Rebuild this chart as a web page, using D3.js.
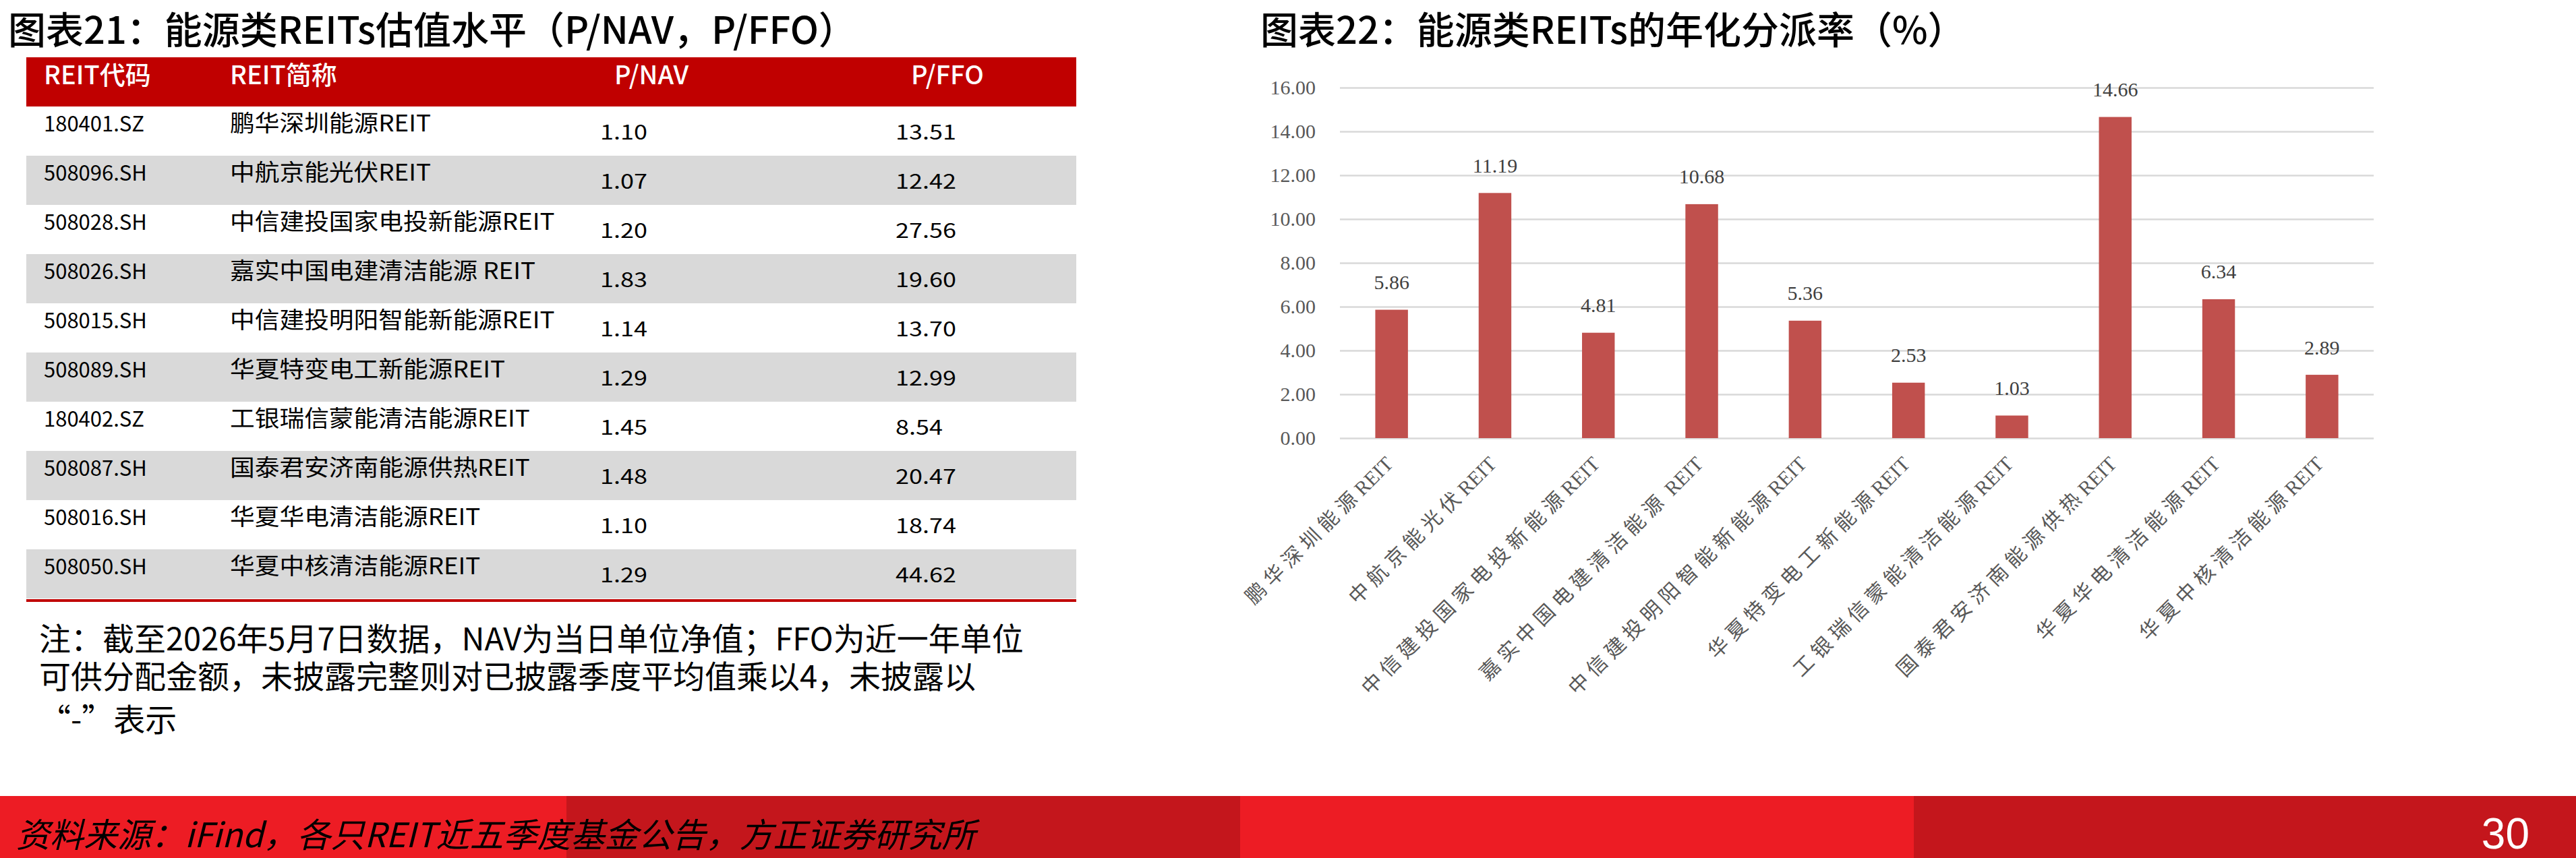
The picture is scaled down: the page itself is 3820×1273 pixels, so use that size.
<!DOCTYPE html>
<html lang="zh">
<head>
  <meta charset="UTF-8">
  <title>能源类REITs估值与分派率</title>
  <script src="https://d3js.org/d3.v7.min.js"></script>
  <style>
    body { margin: 0; background: #fff; }
    svg { display: block; }
  </style>
</head>
<body>
  <script>
    // ---- data ----
    const tableHeaders = ['REIT代码', 'REIT简称', 'P/NAV', 'P/FFO'];
    const reitCodes = ['180401.SZ', '508096.SH', '508028.SH', '508026.SH', '508015.SH',
                       '508089.SH', '180402.SZ', '508087.SH', '508016.SH', '508050.SH'];
    const reitNames = ['鹏华深圳能源REIT', '中航京能光伏REIT', '中信建投国家电投新能源REIT',
                       '嘉实中国电建清洁能源 REIT', '中信建投明阳智能新能源REIT', '华夏特变电工新能源REIT',
                       '工银瑞信蒙能清洁能源REIT', '国泰君安济南能源供热REIT', '华夏华电清洁能源REIT',
                       '华夏中核清洁能源REIT'];
    const pNav = ['1.10', '1.07', '1.20', '1.83', '1.14', '1.29', '1.45', '1.48', '1.10', '1.29'];
    const pFfo = ['13.51', '12.42', '27.56', '19.60', '13.70', '12.99', '8.54', '20.47', '18.74', '44.62'];

    const noteLines = [
      '注：截至2026年5月7日数据，NAV为当日单位净值；FFO为近一年单位',
      '可供分配金额，未披露完整则对已披露季度平均值乘以4，未披露以',
      '“-”表示'
    ];

    const yieldCategories = reitNames;
    const yieldValues = [5.86, 11.19, 4.81, 10.68, 5.36, 2.53, 1.03, 14.66, 6.34, 2.89];
    const yTickValues = [0, 2, 4, 6, 8, 10, 12, 14, 16];

    const title1 = '图表21：能源类REITs估值水平（P/NAV，P/FFO）';
    const title2 = '图表22：能源类REITs的年化分派率（%）';
    const sourceText = '资料来源：iFind，各只REIT近五季度基金公告，方正证券研究所';
    const pageNumber = '30';

    // ---- setup ----
    const W = 3820, H = 1273;
    const CJK = '"Noto Sans CJK SC", "Noto Sans", sans-serif';
    const SERIF = '"Liberation Serif", "Noto Sans CJK SC", serif';

    const svg = d3.select('body').append('svg')
      .attr('width', W)
      .attr('height', H)
      .attr('font-family', CJK);

    svg.append('rect').attr('width', W).attr('height', H).attr('fill', '#fff');

    // titles
    svg.append('text')
      .attr('x', 12).attr('y', 40)
      .attr('dominant-baseline', 'central')
      .attr('font-size', 56).attr('font-weight', 500)
      .text(title1);

    svg.append('text')
      .attr('x', 1869).attr('y', 40)
      .attr('dominant-baseline', 'central')
      .attr('font-size', 56).attr('font-weight', 500)
      .text(title2);

    // ---- table (left) ----
    const tableLeft = 39, tableRight = 1596;
    const headTop = 85, headBottom = 158;
    const colX = [65, 341, 890, 1328];

    const rowScale = d3.scaleBand()
      .domain(d3.range(reitCodes.length))
      .range([headBottom, 888]);

    svg.append('rect')
      .attr('x', tableLeft).attr('y', headTop)
      .attr('width', tableRight - tableLeft).attr('height', headBottom - headTop)
      .attr('fill', '#c00000');

    svg.selectAll('.head')
      .data(tableHeaders)
      .join('text')
      .attr('class', 'head')
      .attr('x', (d, i) => i < 2 ? colX[i] : [911, 1351][i - 2])
      .attr('y', 125)
      .attr('font-size', 38)
      .attr('font-weight', 500)
      .attr('fill', '#fff')
      .text(d => d);

    const rows = svg.selectAll('.row')
      .data(reitCodes)
      .join('g')
      .attr('class', 'row')
      .attr('transform', (d, i) => `translate(0,${rowScale(i)})`);

    rows.append('rect')
      .attr('x', tableLeft)
      .attr('width', tableRight - tableLeft)
      .attr('height', rowScale.bandwidth())
      .attr('fill', (d, i) => i % 2 ? '#d9d9d9' : '#fff');

    rows.append('text')
      .attr('transform', `translate(${colX[0]},37)`)
      .attr('font-size', 31)
      .text(d => d);

    rows.append('text')
      .attr('transform', `translate(${colX[1]},37) scale(1.08,1)`)
      .attr('font-size', 34)
      .text((d, i) => reitNames[i]);

    rows.append('text')
      .attr('transform', `translate(${colX[2]},49) scale(1.2,1)`)
      .attr('font-size', 30)
      .text((d, i) => pNav[i]);

    rows.append('text')
      .attr('transform', `translate(${colX[3]},49) scale(1.2,1)`)
      .attr('font-size', 30)
      .text((d, i) => pFfo[i]);

    svg.append('rect')
      .attr('x', tableLeft).attr('y', 889)
      .attr('width', tableRight - tableLeft).attr('height', 4)
      .attr('fill', '#c00000');

    // note under table
    svg.selectAll('.note')
      .data(noteLines)
      .join('text')
      .attr('class', 'note')
      .attr('x', 58)
      .attr('y', (d, i) => [944, 1000, 1064][i])
      .attr('dominant-baseline', 'central')
      .attr('font-size', 47)
      .text(d => d);

    // ---- bar chart (right) ----
    const plotLeft = 1987, plotRight = 3520;
    const y = d3.scaleLinear().domain([0, 16]).range([650, 130]);
    const x = d3.scaleBand().domain(yieldCategories).range([plotLeft, plotRight]);
    const barW = x.bandwidth() * 0.316;

    const yAxis = svg.append('g')
      .attr('transform', `translate(${plotLeft},0)`)
      .call(d3.axisLeft(y)
        .tickValues(yTickValues)
        .tickFormat(d3.format('.2f'))
        .tickSize(-(plotRight - plotLeft))
        .tickPadding(36));
    yAxis.select('.domain').remove();
    yAxis.selectAll('line').attr('stroke', '#d9d9d9').attr('stroke-width', 2.5);
    yAxis.selectAll('text')
      .attr('font-family', SERIF)
      .attr('font-size', 30)
      .attr('fill', '#595959');

    svg.selectAll('.bar')
      .data(yieldValues)
      .join('rect')
      .attr('class', 'bar')
      .attr('x', (d, i) => x(yieldCategories[i]) + (x.bandwidth() - barW) / 2)
      .attr('y', d => y(d))
      .attr('width', barW)
      .attr('height', d => y(0) - y(d))
      .attr('fill', '#c0504d');

    svg.selectAll('.val')
      .data(yieldValues)
      .join('text')
      .attr('class', 'val')
      .attr('x', (d, i) => x(yieldCategories[i]) + x.bandwidth() / 2)
      .attr('y', d => y(d) - 41)
      .attr('text-anchor', 'middle')
      .attr('dominant-baseline', 'central')
      .attr('font-family', SERIF)
      .attr('font-size', 30)
      .attr('fill', '#404040')
      .text(d => d3.format('.2f')(d));

    // rotated category labels
    const xl = svg.selectAll('.xl')
      .data(yieldCategories)
      .join('text')
      .attr('class', 'xl')
      .attr('transform', d => `translate(${x(d) + x.bandwidth() / 2 + 4},690) rotate(-45)`)
      .attr('text-anchor', 'end')
      .attr('font-family', SERIF)
      .attr('font-size', 30)
      .attr('fill', '#595959');
    xl.append('tspan')
      .attr('letter-spacing', 8)
      .text(d => d.replace(/\s*REIT$/, ''));
    xl.append('tspan')
      .text(d => (d.match(/\s*REIT$/) || [''])[0]);

    // ---- footer band ----
    const bandEdges = [0, 840, 1839, 2838, 3820];
    svg.selectAll('.band')
      .data(d3.pairs(bandEdges))
      .join('rect')
      .attr('class', 'band')
      .attr('x', d => d[0])
      .attr('y', 1181)
      .attr('width', d => d[1] - d[0])
      .attr('height', H - 1181)
      .attr('fill', (d, i) => i % 2 ? '#c4161c' : '#ed1c24');

    svg.append('text')
      .attr('x', 24).attr('y', 1235)
      .attr('dominant-baseline', 'central')
      .attr('font-size', 50)
      .attr('font-style', 'italic')
      .text(sourceText);

    svg.append('text')
      .attr('x', 3751).attr('y', 1237)
      .attr('text-anchor', 'end')
      .attr('dominant-baseline', 'central')
      .attr('font-family', '"Liberation Sans", sans-serif')
      .attr('font-size', 64)
      .attr('fill', '#fff')
      .text(pageNumber);
  </script>
</body>
</html>
